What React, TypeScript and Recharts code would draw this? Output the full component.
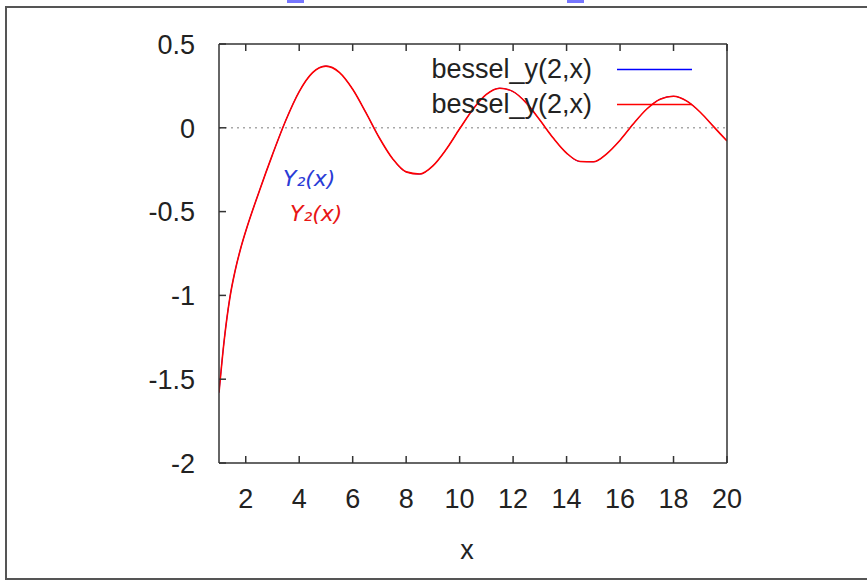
import React from 'react';
import {
  LineChart, Line, XAxis, YAxis, ReferenceLine, Legend,
} from 'recharts';

// samples of bessel_y(2,x)
const xValues = [
  1, 1.2, 1.4, 1.6, 1.8, 2, 2.5, 3, 3.5, 4, 4.5, 5, 5.5, 6, 6.5, 7, 7.5, 8, 8.5, 9,
  9.5, 10, 10.5, 11, 11.5, 12, 12.5, 13, 13.5, 14, 14.5, 15, 15.5, 16, 16.5, 17,
  17.5, 18, 18.5, 19, 19.5, 20,
];
const besselY2 = [
  -1.58, -1.26, -1.02, -0.855, -0.726, -0.617, -0.381, -0.160, 0.045, 0.216, 0.329,
  0.368, 0.331, 0.230, 0.089, -0.061, -0.186, -0.263, -0.276, -0.227, -0.128, -0.006,
  0.111, 0.199, 0.236, 0.216, 0.147, 0.046, -0.061, -0.151, -0.201, -0.203, -0.155,
  -0.074, 0.024, 0.112, 0.171, 0.188, 0.159, 0.093, 0.007, -0.079,
];
const xTicks = [2, 4, 6, 8, 10, 12, 14, 16, 18, 20];
const yTicks = [-2, -1.5, -1, -0.5, 0, 0.5];
const seriesNames = ['bessel_y(2,x)', 'bessel_y(2,x)'];
const seriesColors = ['#0000ff', '#ff0000'];

const data = xValues.map((x, i) => ({ x, blue: besselY2[i], red: besselY2[i] }));

const font = '"Liberation Sans", Arial, sans-serif';
const ink = '#222';
const frame = '#333';
const legendHeight = 70;

const BottomTick = ({ x, y, payload }: any) => (
  <g>
    <line x1={x} y1={y} x2={x} y2={y - 7} stroke={frame} strokeWidth={1.5} />
    <text x={x} y={y + 35} dy="0.36em" textAnchor="middle" fill={ink} fontSize={27} fontFamily={font}>
      {payload.value}
    </text>
  </g>
);

const TopTick = ({ x, y }: any) => (
  <line x1={x} y1={y} x2={x} y2={y + 7} stroke={frame} strokeWidth={1.5} />
);

const LeftTick = ({ x, y, payload }: any) => (
  <g>
    <line x1={x} y1={y} x2={x + 7} y2={y} stroke={frame} strokeWidth={1.5} />
    <text x={x - 24} y={y} dy="0.36em" textAnchor="end" fill={ink} fontSize={27} fontFamily={font}>
      {payload.value}
    </text>
  </g>
);

const LegendBox = () => (
  <div style={{ fontFamily: font, fontSize: 27, color: ink }}>
    {seriesNames.map((n, i) => (
      <div key={i} style={{ display: 'flex', alignItems: 'center', height: 35 }}>
        <span style={{ width: 200, textAlign: 'right', lineHeight: '35px' }}>{n}</span>
        <svg width={100} height={35}>
          <line x1={25} x2={100} y1={17.5} y2={17.5} stroke={seriesColors[i]} strokeWidth={1.5} />
        </svg>
      </div>
    ))}
  </div>
);

export default function App() {
  return (
    <div style={{ position: 'absolute', left: 0, top: 0, width: 867, height: 580, background: '#fff', overflow: 'hidden' }}>
      {/* outer frame of the screenshot, right side cut off */}
      <div style={{
        position: 'absolute', left: 5, top: 6, width: 900, height: 570,
        borderTop: '2px solid #555', borderLeft: '2px solid #555', borderBottom: '2px solid #555',
      }} />
      <div style={{ position: 'absolute', left: 287, top: 0, width: 17, height: 3, background: '#7777ff' }} />
      <div style={{ position: 'absolute', left: 567, top: 0, width: 17, height: 3, background: '#7777ff' }} />

      <LineChart
        width={867}
        height={580}
        data={data}
        margin={{ top: 43, right: 139, bottom: 57 - legendHeight, left: 159 }}
        style={{ position: 'absolute', left: 0, top: 0 }}
      >
        <XAxis
          dataKey="x"
          type="number"
          domain={[1, 20]}
          ticks={xTicks}
          allowDataOverflow
          height={60}
          tickSize={0}
          tickMargin={0}
          tickLine={false}
          tick={<BottomTick />}
          axisLine={{ stroke: frame, strokeWidth: 1.5 }}
          label={{ value: 'x', position: 'bottom', offset: 17, dx: -6, fill: ink, fontSize: 27, fontFamily: font }}
        />
        <XAxis
          xAxisId="top"
          orientation="top"
          dataKey="x"
          type="number"
          domain={[1, 20]}
          ticks={xTicks}
          allowDataOverflow
          height={1}
          tickSize={0}
          tickMargin={0}
          tickLine={false}
          tick={<TopTick />}
          axisLine={{ stroke: frame, strokeWidth: 1.5 }}
        />
        <YAxis
          type="number"
          domain={[-2, 0.5]}
          ticks={yTicks}
          allowDataOverflow
          width={60}
          tickSize={0}
          tickMargin={0}
          tickLine={false}
          tick={<LeftTick />}
          axisLine={{ stroke: frame, strokeWidth: 1.5 }}
        />
        <YAxis
          yAxisId="right"
          orientation="right"
          type="number"
          domain={[-2, 0.5]}
          width={1}
          tick={false}
          tickLine={false}
          axisLine={{ stroke: frame, strokeWidth: 1.5 }}
        />
        <ReferenceLine y={0} stroke="#a8a8a8" strokeWidth={1.5} strokeDasharray="2 4" />
        <Legend
          content={<LegendBox />}
          wrapperStyle={{ position: 'absolute', left: 392, top: 52, width: 300, height: legendHeight }}
        />
        <Line
          dataKey="blue"
          name={seriesNames[0]}
          type="monotone"
          stroke={seriesColors[0]}
          strokeWidth={1}
          dot={false}
          isAnimationActive={false}
        />
        <Line
          dataKey="red"
          name={seriesNames[1]}
          type="monotone"
          stroke={seriesColors[1]}
          strokeWidth={1.6}
          dot={false}
          isAnimationActive={false}
        />
      </LineChart>

      {/* handwritten notes */}
      <div style={{ position: 'absolute', left: 283, top: 166, fontFamily: '"DejaVu Sans", sans-serif', fontStyle: 'italic', fontSize: 22, color: '#2a3bd6' }}>
        Y₂(x)
      </div>
      <div style={{ position: 'absolute', left: 290, top: 201, fontFamily: '"DejaVu Sans", sans-serif', fontStyle: 'italic', fontSize: 22, color: '#e81515' }}>
        Y₂(x)
      </div>
    </div>
  );
}
